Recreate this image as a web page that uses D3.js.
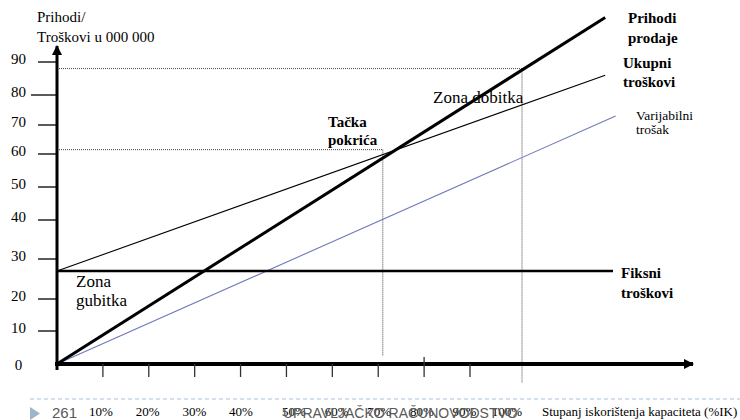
<!DOCTYPE html>
<html>
<head>
<meta charset="utf-8">
<script src="https://cdn.jsdelivr.net/npm/d3@7"></script>
<style>
  html, body { margin: 0; padding: 0; background: #fff; }
  svg { display: block; }
</style>
</head>
<body>
<svg id="chart" width="740" height="420"></svg>
<script>
// ---- data ----
const yTickValues = [0, 10, 20, 30, 40, 50, 60, 70, 80, 90];
const xTickValues = [10, 20, 30, 40, 50, 60, 70, 80, 90];
const xTickLabels = ["10%", "20%", "30%", "40%", "50%", "60%", "70%", "80%", "90%", "100%"];
const xLabelValues = [10, 20, 30, 40, 50, 60, 70, 80, 90, 100];
// lines: [capacity %, value in 000 000]
const revenueLine = [[0, 0], [116, 103.5]];
const totalCostLine = [[0, 27], [116, 86]];
const variableCostLine = [[0, 0], [118, 73]];
const fixedCostLine = [[0, 27], [117.5, 27]];
const breakEven = [71, 61.5];
const fullCapacity = [100, 88];

const SERIF = "'Liberation Serif', 'Times New Roman', Times, serif";
const SANS = "'Liberation Sans', Arial, Helvetica, sans-serif";

const svg = d3.select("#chart");

// scales (hand-drawn chart: irregular tick spacing)
const x = d3.scaleLinear().domain([0, 90, 100]).range([57, 470, 522]);
const y = d3.scaleLinear()
  .domain(yTickValues)
  .range([364, 331, 299, 259, 220, 187, 154, 125, 95, 62]);
const xLabelPos = d3.scaleLinear().domain([10, 40, 50, 100]).range([101, 241, 294, 507]);

const line = d3.line().x(d => x(d[0])).y(d => y(d[1]));

// defs: arrowheads
const defs = svg.append("defs");
defs.append("marker").attr("id", "arr")
  .attr("viewBox", "0 0 10 10").attr("refX", 9).attr("refY", 5)
  .attr("markerUnits", "userSpaceOnUse")
  .attr("markerWidth", 12).attr("markerHeight", 10).attr("orient", "auto")
  .append("path").attr("d", "M0,0 L10,5 L0,10 Z").attr("fill", "#000");

// dotted guide lines
function dotted(x1, y1, x2, y2) {
  svg.append("line").attr("x1", x1).attr("y1", y1).attr("x2", x2).attr("y2", y2)
    .attr("stroke", "#444").attr("stroke-width", 1).attr("stroke-dasharray", "1,1");
}
dotted(x(0), y(fullCapacity[1]), x(fullCapacity[0]), y(fullCapacity[1]));
dotted(x(fullCapacity[0]), y(fullCapacity[1]), x(fullCapacity[0]), 383);
dotted(x(0), y(breakEven[1]), x(breakEven[0]), y(breakEven[1]));
dotted(x(breakEven[0]), y(breakEven[1]), x(breakEven[0]), 356);

// series lines
svg.append("path").datum(variableCostLine).attr("d", line)
  .attr("fill", "none").attr("stroke", "#6f7ab8").attr("stroke-width", 1.1);
svg.append("path").datum(totalCostLine).attr("d", line)
  .attr("fill", "none").attr("stroke", "#000").attr("stroke-width", 1.1);
svg.append("path").datum(fixedCostLine).attr("d", line)
  .attr("fill", "none").attr("stroke", "#000").attr("stroke-width", 2.5);
svg.append("path").datum(revenueLine).attr("d", line)
  .attr("fill", "none").attr("stroke", "#000").attr("stroke-width", 3);

// y axis
svg.append("line").attr("x1", x(0)).attr("y1", y(0) + 6).attr("x2", x(0)).attr("y2", 46)
  .attr("stroke", "#000").attr("stroke-width", 3).attr("marker-end", "url(#arr)");
svg.selectAll(".ytick").data(yTickValues.filter(v => v > 0)).enter().append("line")
  .attr("x1", d => d === 80 ? 31 : 38).attr("x2", x(0))
  .attr("y1", d => y(d)).attr("y2", d => y(d))
  .attr("stroke", "#000").attr("stroke-width", 1.3);
svg.selectAll(".ylab").data(yTickValues).enter().append("text")
  .attr("font-family", SERIF).attr("x", 18.5).attr("y", d => y(d) + (d === 0 ? 6 : 2))
  .attr("text-anchor", "middle").attr("font-size", 15).text(d => d);

// x axis
svg.append("line").attr("x1", x(0) - 2).attr("y1", y(0)).attr("x2", 693).attr("y2", y(0))
  .attr("stroke", "#000").attr("stroke-width", 4).attr("marker-end", "url(#arr)");
svg.selectAll(".xtick").data(xTickValues).enter().append("line")
  .attr("x1", d => x(d)).attr("x2", d => x(d))
  .attr("y1", d => d === 80 ? y(0) - 7 : y(0)).attr("y2", y(0) + 13)
  .attr("stroke", "#333").attr("stroke-width", 1.3);

// axis titles
svg.append("text").attr("font-family", SERIF).attr("x", 37).attr("y", 22).attr("font-size", 15).text("Prihodi/");
svg.append("text").attr("font-family", SERIF).attr("x", 37).attr("y", 42).attr("font-size", 15).text("Troškovi u 000 000");

// annotations
function multi(xp, yp, lines, size, weight, lh) {
  const t = svg.append("text").attr("font-family", SERIF).attr("font-size", size).attr("font-weight", weight);
  lines.forEach((s, i) => t.append("tspan").attr("x", xp).attr("y", yp + i * lh).text(s));
}
multi(628, 23, ["Prihodi", "prodaje"], 15, "bold", 20);
multi(623, 68, ["Ukupni", "troškovi"], 15, "bold", 19);
multi(636, 120, ["Varijabilni", "trošak"], 13.5, "normal", 14);
multi(621, 278, ["Fiksni", "troškovi"], 15, "bold", 20);
multi(328, 127, ["Tačka", "pokrića"], 15, "bold", 18);
multi(433, 103, ["Zona dobitka"], 17, "normal", 20);
multi(76, 287, ["Zona", "gubitka"], 17, "normal", 19);

// footer
svg.append("line").attr("x1", 30).attr("x2", 740).attr("y1", 399).attr("y2", 399)
  .attr("stroke", "#a9c3da").attr("stroke-width", 1).attr("stroke-dasharray", "4,3");
svg.append("path").attr("d", "M30,407 L40,413.5 L30,420 Z").attr("fill", "#9fb3c9");
svg.append("text").attr("x", 52).attr("y", 418).attr("font-family", SANS)
  .attr("font-size", 15).attr("fill", "#595959").text("261");

svg.selectAll(".xlab").data(xLabelValues).enter().append("text")
  .attr("font-family", SERIF).attr("x", d => xLabelPos(d)).attr("y", 416)
  .attr("text-anchor", "middle").attr("font-size", 13)
  .text((d, i) => xTickLabels[i]);
svg.append("text").attr("font-family", SERIF).attr("x", 542).attr("y", 416).attr("font-size", 13)
  .text("Stupanj iskorištenja kapaciteta (%IK)");
svg.append("text").attr("x", 283).attr("y", 418).attr("font-family", SANS)
  .attr("font-size", 14).attr("fill", "#595959").text("UPRAVLJAČKO RAČUNOVODSTVO");
</script>
</body>
</html>
